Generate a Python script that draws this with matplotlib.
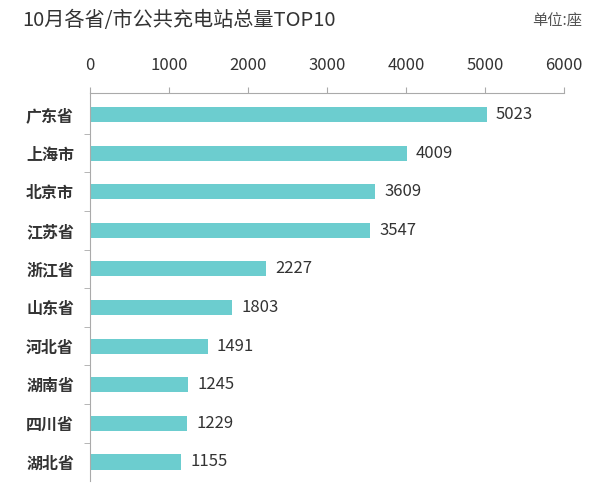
import matplotlib.pyplot as plt

plt.rcParams['font.family'] = ['Noto Sans CJK SC', 'DejaVu Sans']

provinces = ["广东省", "上海市", "北京市", "江苏省", "浙江省", "山东省", "河北省", "湖南省", "四川省", "湖北省"]
stations = [5023, 4009, 3609, 3547, 2227, 1803, 1491, 1245, 1229, 1155]
xticks = [0, 1000, 2000, 3000, 4000, 5000, 6000]

bar_color = "#6ccdcf"
text_color = "#333333"
line_color = "#aaaaaa"

fig = plt.figure(figsize=(5.96, 4.84), dpi=100)
ax = fig.add_axes([0.151, 0.0056, 0.795, 0.8017])

pos = list(range(len(provinces)))
ax.barh(pos, stations, height=0.39, color=bar_color)
for p, v in zip(pos, stations):
    ax.annotate(str(v), (v, p), xytext=(6.5, 0), textcoords="offset points",
                va="center", ha="left", fontsize=12, color=text_color)

ax.set_xlim(0, 6000)
ax.set_ylim(len(provinces) - 0.5, -0.55)
ax.xaxis.tick_top()
ax.set_xticks(xticks)
ax.set_xticklabels([str(t) for t in xticks], fontsize=12, color=text_color)
ax.tick_params(axis="x", length=4, color=line_color, pad=10)

ax.set_yticks(pos)
ax.set_yticklabels(provinces, fontsize=11.5, fontweight="bold", color=text_color)
ax.set_yticks([p + 0.5 for p in pos[:-1]], minor=True)
ax.tick_params(axis="y", which="major", length=0, pad=11.5)
ax.tick_params(axis="y", which="minor", length=4, color=line_color)

for s in ["right", "bottom"]:
    ax.spines[s].set_visible(False)
ax.spines["top"].set_color(line_color)
ax.spines["left"].set_color(line_color)

fig.text(0.037, 0.957, "10月各省/市公共充电站总量TOP10", fontsize=14.5, color=text_color, va="center")
fig.text(0.977, 0.957, "单位:座", fontsize=11, color="#555555", va="center", ha="right")

fig.savefig("out.png", dpi=100)
